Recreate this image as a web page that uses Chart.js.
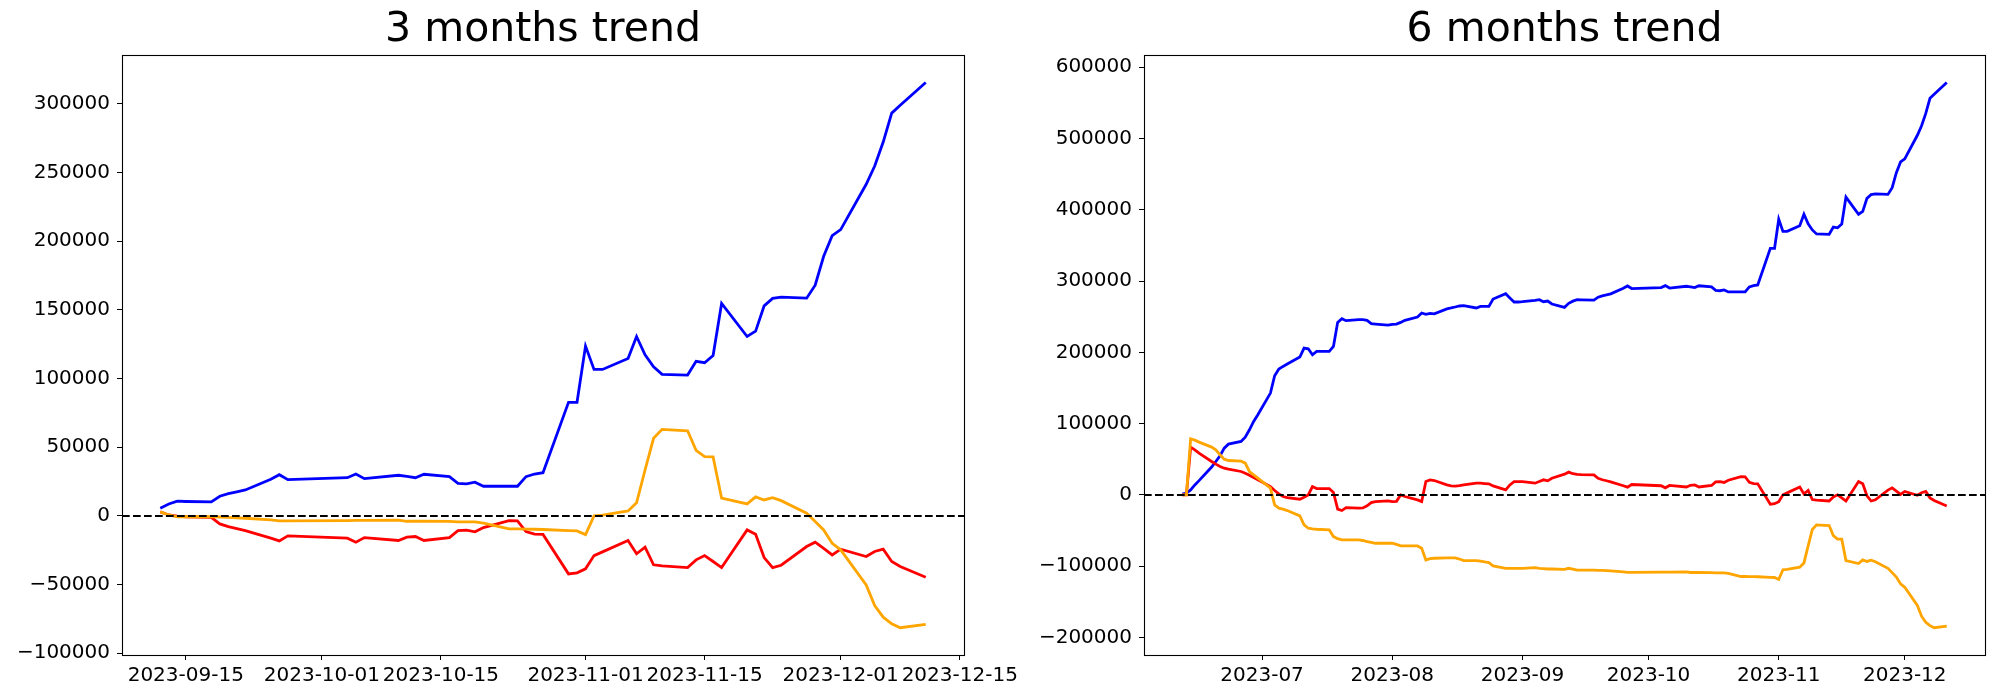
<!DOCTYPE html>
<html>
<head>
<meta charset="utf-8">
<script src="https://cdn.jsdelivr.net/npm/chart.js@4.4.0/dist/chart.umd.min.js"></script>
<style>
  html, body { margin: 0; padding: 0; background: #fff; }
  #wrap { position: relative; width: 2000px; height: 700px; }
  canvas { position: absolute; top: 0; }
  #chart3m { left: 0; }
  #chart6m { left: 1000px; }
</style>
</head>
<body>
<div id="wrap">
  <canvas id="chart3m" width="1030" height="700"></canvas>
  <canvas id="chart6m" width="1000" height="700"></canvas>
</div>
<script>

// ---- 3 months trend ----
var dates3m = [
  '2023-09-12','2023-09-13','2023-09-14','2023-09-15','2023-09-18','2023-09-19','2023-09-20','2023-09-21','2023-09-22',
  '2023-09-25','2023-09-26','2023-09-27','2023-10-04','2023-10-05','2023-10-06','2023-10-10','2023-10-11','2023-10-12',
  '2023-10-13','2023-10-16','2023-10-17','2023-10-18','2023-10-19','2023-10-20','2023-10-23','2023-10-24','2023-10-25',
  '2023-10-26','2023-10-27','2023-10-30','2023-10-31','2023-11-01','2023-11-02','2023-11-03','2023-11-06','2023-11-07',
  '2023-11-08','2023-11-09','2023-11-10','2023-11-13','2023-11-14','2023-11-15','2023-11-16','2023-11-17','2023-11-20',
  '2023-11-21','2023-11-22','2023-11-23','2023-11-24','2023-11-27','2023-11-28','2023-11-29','2023-11-30','2023-12-01',
  '2023-12-04','2023-12-05','2023-12-06','2023-12-07','2023-12-08','2023-12-11'
];
var blue3m = [
  5600, 8700, 10700, 10500, 10200, 14300, 16200, 17500, 18900,
  26700, 30000, 26400, 27800, 30500, 27100, 29600, 28700, 27800,
  30300, 28600, 23700, 23300, 24500, 21600, 21600, 21600, 28600,
  30500, 31500, 82700, 82700, 123600, 106600, 106600, 114600, 130600,
  117300, 108600, 103000, 102500, 112500, 111500, 116800, 154600, 130600,
  134500, 152900, 158300, 159200, 158500, 167900, 189000, 204000, 208400,
  241400, 254700, 272100, 293200, 298900, 315500
];
var red3m = [
  2900, 700, -200, -600, -1000, -5800, -7800, -9200, -10700,
  -16200, -18200, -14500, -16200, -19100, -15800, -17900, -15500, -15000,
  -17900, -15800, -10700, -10400, -11600, -8500, -3400, -3600, -11400,
  -13300, -13500, -42200, -41400, -38500, -28900, -26200, -17900, -27600,
  -22800, -35600, -36400, -37600, -32000, -28900, -33200, -37600, -10200,
  -13300, -30300, -37600, -35900, -22300, -19100, -23700, -28400, -24200,
  -29600, -25900, -24200, -33200, -36800, -44600
];
var orange3m = [
  2900, 700, -700, -600, -500, -800, -1000, -1400, -1700,
  -2900, -3600, -3600, -3400, -3300, -3300, -3100, -3900, -3900,
  -3900, -4000, -4400, -4300, -4300, -5300, -9500, -9500, -9600,
  -9700, -9900, -10700, -10900, -13600, 0, 500, 3600, 9500,
  33400, 56500, 63000, 62000, 47700, 43100, 42900, 12900, 8700,
  13800, 11600, 13300, 11100, 2000, -4100, -10200, -19900, -24700,
  -50200, -65200, -73700, -78500, -81400, -79000
];
var xTicks3m = ['2023-09-15','2023-10-01','2023-10-15','2023-11-01','2023-11-15','2023-12-01','2023-12-15'];
var xLabels3m = ['2023-09-15','2023-10-01','2023-10-15','2023-11-01','2023-11-15','2023-12-01','2023-12-15'];
var yTicks3m = [-100000, -50000, 0, 50000, 100000, 150000, 200000, 250000, 300000];

// ---- 6 months trend ----
var dates6m = [
  '2023-06-12','2023-06-13','2023-06-14','2023-06-15','2023-06-16','2023-06-19','2023-06-20','2023-06-21','2023-06-22',
  '2023-06-23','2023-06-26','2023-06-27','2023-06-28','2023-06-29','2023-06-30',
  '2023-07-03','2023-07-04','2023-07-05','2023-07-06','2023-07-07','2023-07-10','2023-07-11','2023-07-12','2023-07-13',
  '2023-07-14','2023-07-17','2023-07-18','2023-07-19','2023-07-20','2023-07-21','2023-07-24','2023-07-25','2023-07-26',
  '2023-07-27','2023-07-28','2023-07-31',
  '2023-08-01','2023-08-02','2023-08-03','2023-08-04','2023-08-07','2023-08-08','2023-08-09','2023-08-10','2023-08-11',
  '2023-08-14','2023-08-15','2023-08-16','2023-08-17','2023-08-18','2023-08-21','2023-08-22','2023-08-23','2023-08-24',
  '2023-08-25','2023-08-28','2023-08-29','2023-08-30','2023-08-31',
  '2023-09-01','2023-09-04','2023-09-05','2023-09-06','2023-09-07','2023-09-08','2023-09-11'
].concat(dates3m);
var blue6m = [
  1000, 2500, 7000, 14000, 20000, 39000, 46800, 54800, 65600,
  71200, 74900, 81000, 91300, 103000, 112400,
  142800, 167100, 176500, 180200, 183500, 193400, 206000, 205000, 196600,
  201300, 201300, 208300, 242000, 247200, 244400, 245800, 245800, 244900,
  240200, 239700, 238300,
  239300, 239700, 242000, 244900, 249500, 255200, 253300, 254700, 254000,
  261000, 262200, 263600, 265000, 265500, 262200, 264500, 264500, 264500,
  274800, 282300, 276200, 270600, 270600,
  271000, 272900, 273800, 271000, 272000, 267800, 263100,
  268700, 271800, 273800, 273600, 273300, 277400, 279300, 280600, 282000,
  289800, 293100, 289500, 290900, 293600, 290200, 292700, 291800, 290900,
  293400, 291700, 286800, 286400, 287600, 284700, 284700, 284700, 291700,
  293600, 294600, 345800, 345800, 386700, 369700, 369700, 377700, 393700,
  380400, 371700, 366100, 365600, 375600, 374600, 379900, 417700, 393700,
  397600, 416000, 421400, 422300, 421600, 431000, 452100, 467100, 471500,
  504500, 517800, 535200, 556300, 562000, 578600
];
var red6m = [
  0, 0, 67000, 63200, 58500, 46800, 43100, 39800, 37400,
  36000, 32800, 30400, 27600, 24300, 21100,
  11700, 6100, 1400, -2300, -3700, -6100, -3300, 0, 11700,
  8900, 8900, 3300, -20100, -22000, -17800, -18700, -18300, -15400,
  -10800, -9400, -8400,
  -9400, -9000, 0, -2300, -7000, -9400, 18700, 21100, 20100,
  14000, 12600, 12200, 13000, 14000, 16400, 16400, 15900, 15500,
  12600, 7000, 14000, 18700, 18700,
  18700, 16400, 18700, 21100, 19700, 23400, 29000,
  31900, 29700, 28800, 28400, 28000, 23200, 21200, 19800, 18300,
  12800, 10800, 14500, 12800, 9900, 13200, 11100, 13500, 14000,
  11100, 13200, 18300, 18600, 17400, 20500, 25600, 25400, 17600,
  15700, 15500, -13200, -12400, -9500, 100, 2800, 11100, 1400,
  6200, -6600, -7400, -8600, -3000, 100, -4200, -8600, 18800,
  15700, -1300, -8600, -6900, 6700, 9900, 5300, 600, 4800,
  -600, 3100, 4800, -4200, -7800, -15600
];
var orange6m = [
  0, 0, 78700, 76800, 74000, 67000, 63200, 56200, 50100,
  48200, 47300, 44500, 32800, 28100, 23400,
  9400, -14000, -18700, -20100, -22000, -29500, -42100, -46800, -47700,
  -48200, -49200, -58500, -61500, -63200, -63200, -63200, -64000, -65500,
  -66500, -67900, -67900,
  -67900, -69500, -71600, -71600, -71600, -74900, -91300, -89500, -88900,
  -88500, -88500, -88500, -90000, -92200, -92200, -93000, -94100, -95000,
  -99700, -103000, -103000, -103000, -103000,
  -103000, -102100, -103000, -103400, -104000, -104000, -104500,
  -103000, -104300, -105700, -105600, -105500, -105800, -106000, -106400, -106700,
  -107900, -108600, -108600, -108400, -108300, -108300, -108100, -108900, -108900,
  -108900, -109000, -109400, -109300, -109300, -110300, -114500, -114500, -114600,
  -114700, -114900, -115700, -115900, -118600, -105000, -104500, -101400, -95500,
  -71600, -48500, -42000, -43000, -57300, -61900, -62100, -92100, -96300,
  -91200, -93400, -91700, -93900, -103000, -109100, -115200, -124900, -129700,
  -155200, -170200, -178700, -183500, -186400, -184000
];
var xTicks6m = ['2023-07-01','2023-08-01','2023-09-01','2023-10-01','2023-11-01','2023-12-01'];
var xLabels6m = ['2023-07','2023-08','2023-09','2023-10','2023-11','2023-12'];
var yTicks6m = [-200000, -100000, 0, 100000, 200000, 300000, 400000, 500000, 600000];

Chart.defaults.font.family = "'DejaVu Sans', sans-serif";
Chart.defaults.font.size = 20;
Chart.defaults.color = '#000';

function toDay(s) {
  var p = s.split('-');
  return Date.UTC(+p[0], +p[1] - 1, +p[2]) / 86400000;
}

function fmtNum(v) {
  return v < 0 ? '\u2212' + Math.abs(v) : String(v);
}

// matplotlib style box round the axes
var framePlugin = {
  id: 'frame',
  afterDatasetsDraw: function(chart) {
    var a = chart.chartArea, ctx = chart.ctx;
    ctx.save();
    ctx.strokeStyle = '#000';
    ctx.lineWidth = 1.1;
    ctx.strokeRect(Math.round(a.left) + 0.5, Math.round(a.top) + 0.5,
                   Math.round(a.right - a.left), Math.round(a.bottom - a.top));
    ctx.restore();
  }
};

function buildChart(id, cfg) {
  var xs = cfg.dates.map(toDay);
  var allY = [];
  cfg.series.forEach(function(s) { allY = allY.concat(s.values); });
  var xmin = Math.min.apply(null, xs), xmax = Math.max.apply(null, xs);
  var ymin = Math.min.apply(null, allY), ymax = Math.max.apply(null, allY);
  var xpad = (xmax - xmin) * 0.05, ypad = (ymax - ymin) * 0.05;

  var datasets = cfg.series.map(function(s, k) {
    return {
      data: xs.map(function(x, i) { return { x: x, y: s.values[i] }; }),
      borderColor: s.color,
      borderWidth: 2.8,
      pointRadius: 0,
      tension: 0,
      fill: false,
      order: 10 - k
    };
  });
  // dashed zero line across the whole axes
  datasets.push({
    data: [{ x: xmin - xpad, y: 0 }, { x: xmax + xpad, y: 0 }],
    borderColor: '#000',
    borderWidth: 2,
    borderDash: [7.7, 3.3],
    pointRadius: 0,
    fill: false,
    order: 0
  });

  return new Chart(document.getElementById(id), {
    type: 'line',
    data: { datasets: datasets },
    options: {
      responsive: false,
      animation: false,
      devicePixelRatio: 1,
      events: [],
      layout: { padding: { left: 0, right: cfg.padRight, top: 0, bottom: 0 } },
      plugins: {
        legend: { display: false },
        tooltip: { enabled: false },
        title: {
          display: true,
          text: cfg.title,
          fullSize: false,
          color: '#000',
          font: { size: 41, weight: 'normal' },
          padding: { top: 6, bottom: 0 }
        }
      },
      scales: {
        x: {
          type: 'linear',
          min: xmin - xpad,
          max: xmax + xpad,
          grid: { display: true, drawOnChartArea: false, drawTicks: true, tickLength: 5, color: '#000', tickColor: '#000' },
          border: { display: true, color: '#000', width: 1 },
          ticks: {
            autoSkip: false, maxRotation: 0, minRotation: 0, padding: 4,
            callback: function(value, index) { return cfg.xLabels[index]; }
          },
          afterBuildTicks: function(scale) {
            scale.ticks = cfg.xTicks.map(function(d) { return { value: toDay(d) }; });
          },
          afterFit: function(scale) { scale.height = 45; }
        },
        y: {
          type: 'linear',
          min: ymin - ypad,
          max: ymax + ypad,
          grid: { display: true, drawOnChartArea: false, drawTicks: true, tickLength: 5, color: '#000', tickColor: '#000' },
          border: { display: true, color: '#000', width: 1 },
          ticks: {
            autoSkip: false, padding: 7,
            callback: function(value) { return fmtNum(value); }
          },
          afterBuildTicks: function(scale) {
            scale.ticks = cfg.yTicks.map(function(v) { return { value: v }; });
          },
          afterFit: function(scale) { scale.width = cfg.yWidth; }
        }
      }
    },
    plugins: [framePlugin]
  });
}

buildChart('chart3m', {
  title: '3 months trend',
  dates: dates3m,
  series: [
    { values: blue3m, color: '#0000ff' },
    { values: red3m, color: '#ff0000' },
    { values: orange3m, color: '#ffa500' }
  ],
  xTicks: xTicks3m, xLabels: xLabels3m, yTicks: yTicks3m,
  yWidth: 122, padRight: 66
});

buildChart('chart6m', {
  title: '6 months trend',
  dates: dates6m,
  series: [
    { values: blue6m, color: '#0000ff' },
    { values: red6m, color: '#ff0000' },
    { values: orange6m, color: '#ffa500' }
  ],
  xTicks: xTicks6m, xLabels: xLabels6m, yTicks: yTicks6m,
  yWidth: 144, padRight: 15
});
</script>
</body>
</html>
